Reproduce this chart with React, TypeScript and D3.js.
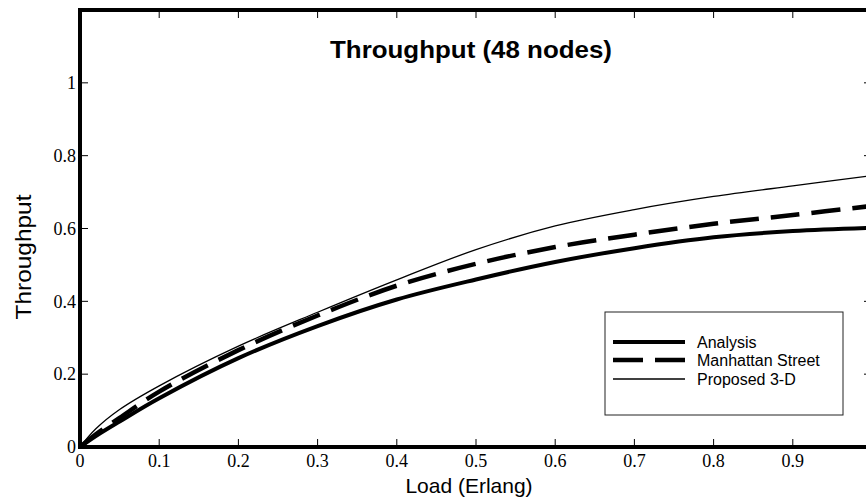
import React from 'react';
import * as d3 from 'd3';

// Offered load (Erlang) at which the curves were read
const loads = [0, 0.02, 0.05, 0.1, 0.2, 0.3, 0.4, 0.5, 0.6, 0.7, 0.8, 0.9, 1.0];
// Throughput per series
const analysis = [0, 0.03, 0.07, 0.134, 0.244, 0.332, 0.405, 0.46, 0.508, 0.546, 0.576, 0.593, 0.602];
const manhattan = [0, 0.035, 0.08, 0.152, 0.266, 0.361, 0.443, 0.503, 0.549, 0.583, 0.613, 0.637, 0.662];
const proposed = [0, 0.05, 0.103, 0.168, 0.277, 0.37, 0.459, 0.542, 0.607, 0.652, 0.688, 0.717, 0.745];

const xTicks = [0, 0.1, 0.2, 0.3, 0.4, 0.5, 0.6, 0.7, 0.8, 0.9, 1];
const xLabels = ['0', '0.1', '0.2', '0.3', '0.4', '0.5', '0.6', '0.7', '0.8', '0.9'];
const yTicks = [0, 0.2, 0.4, 0.6, 0.8, 1];
const yLabels = ['0', '0.2', '0.4', '0.6', '0.8', '1'];
const seriesNames = ['Analysis', 'Manhattan Street', 'Proposed 3-D'];

const width = 866;
const height = 503;
const plot = { left: 80, right: 872, top: 10, bottom: 447 };

const sans = '"Liberation Sans", Arial, sans-serif';
const serif = '"Liberation Serif", "Times New Roman", serif';

const App = () => {
  const x = d3.scaleLinear().domain([0, 1]).range([plot.left, plot.right]);
  const y = d3.scaleLinear().domain([0, 1.2]).range([plot.bottom, plot.top]);

  const line = d3
    .line<number>()
    .x((_, i) => x(loads[i]))
    .y((d) => y(d))
    .curve(d3.curveCatmullRom.alpha(0.5));

  const series = [
    { name: seriesNames[0], values: analysis, width: 4, dash: undefined },
    { name: seriesNames[1], values: manhattan, width: 4.5, dash: '29,12' },
    { name: seriesNames[2], values: proposed, width: 1.3, dash: undefined },
  ];

  const tickLen = 8;

  // legend layout
  const lg = { x0: 605, y0: 312, x1: 843, y1: 415 };
  const lgRows = [342, 360, 379];

  return (
    <svg
      width={width}
      height={height}
      style={{ position: 'absolute', left: 0, top: 0, background: '#fff' }}
    >
      <rect x={0} y={0} width={width} height={height} fill="#fff" />

      {/* curves */}
      <g fill="none" stroke="#000" strokeLinejoin="round">
        {series.map((s) => (
          <path
            key={s.name}
            d={line(s.values) || ''}
            strokeWidth={s.width}
            strokeDasharray={s.dash}
          />
        ))}
      </g>

      {/* ticks, all four sides, pointing inward */}
      <g stroke="#000" strokeWidth={1}>
        {xTicks.map((t) => (
          <g key={'xt' + t}>
            <line x1={x(t)} x2={x(t)} y1={plot.bottom} y2={plot.bottom - tickLen} />
            <line x1={x(t)} x2={x(t)} y1={plot.top} y2={plot.top + tickLen} />
          </g>
        ))}
        {yTicks.map((t) => (
          <g key={'yt' + t}>
            <line x1={plot.left} x2={plot.left + tickLen} y1={y(t)} y2={y(t)} />
            <line x1={plot.right} x2={plot.right - tickLen} y1={y(t)} y2={y(t)} />
          </g>
        ))}
      </g>

      {/* frame */}
      <rect
        x={plot.left}
        y={plot.top}
        width={plot.right - plot.left}
        height={plot.bottom - plot.top}
        fill="none"
        stroke="#000"
        strokeWidth={4}
      />

      {/* tick labels */}
      <g fontFamily={serif} fontSize={18} fill="#000">
        {xLabels.map((l, i) => (
          <text key={'xl' + l} x={x(xTicks[i])} y={plot.bottom + 20} textAnchor="middle">
            {l}
          </text>
        ))}
        {yLabels.map((l, i) => (
          <text key={'yl' + l} x={plot.left - 4} y={y(yTicks[i])} dy="0.35em" textAnchor="end">
            {l}
          </text>
        ))}
      </g>

      {/* titles */}
      <text
        x={471}
        y={58}
        textAnchor="middle"
        fontFamily={sans}
        fontWeight="bold"
        fontSize={24}
        textLength={282}
        lengthAdjust="spacingAndGlyphs"
      >
        Throughput (48 nodes)
      </text>
      <text x={469} y={493} textAnchor="middle" fontFamily={sans} fontSize={21}>
        Load (Erlang)
      </text>
      <text
        transform={`translate(31,257) rotate(-90)`}
        textAnchor="middle"
        fontFamily={sans}
        fontSize={22}
        textLength={125}
        lengthAdjust="spacingAndGlyphs"
      >
        Throughput
      </text>

      {/* legend */}
      <rect
        x={lg.x0}
        y={lg.y0}
        width={lg.x1 - lg.x0}
        height={lg.y1 - lg.y0}
        fill="#fff"
        stroke="#222"
        strokeWidth={1}
      />
      {series.map((s, i) => (
        <g key={'lg' + s.name}>
          <line
            x1={613}
            x2={685}
            y1={lgRows[i]}
            y2={lgRows[i]}
            stroke="#000"
            strokeWidth={s.width}
            strokeDasharray={s.dash ? '30,12' : undefined}
          />
          <text x={697} y={lgRows[i]} dy="0.35em" fontFamily={sans} fontSize={16}>
            {s.name}
          </text>
        </g>
      ))}
    </svg>
  );
};

export default App;
